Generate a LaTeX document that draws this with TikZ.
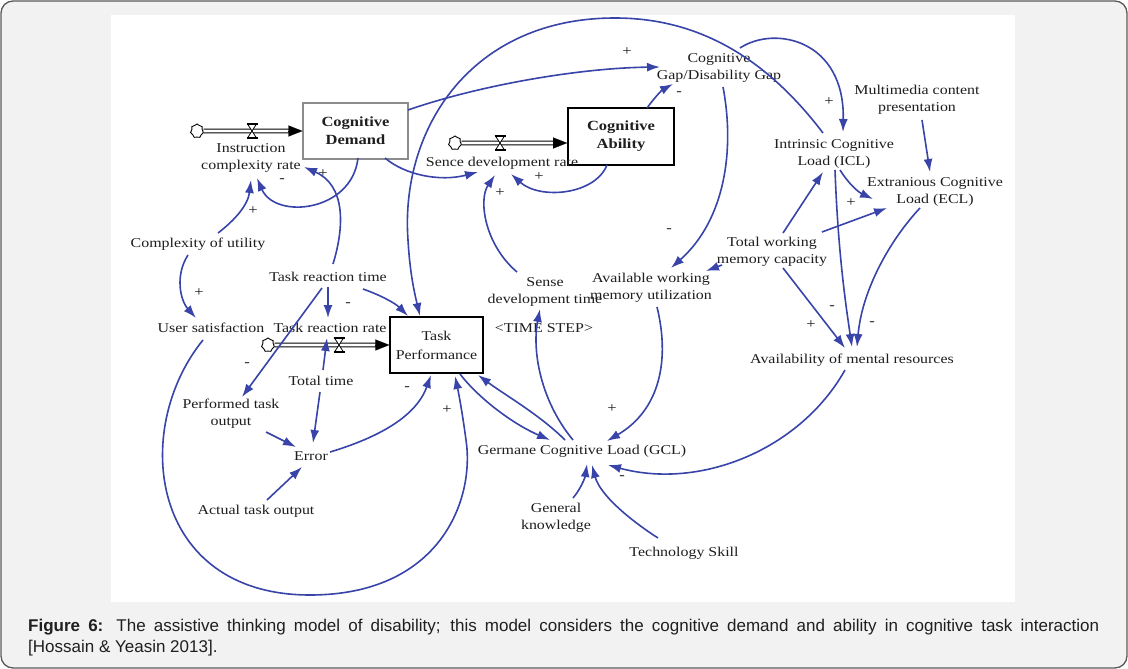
\documentclass[tikz,border=0pt]{standalone}
\usepackage{fontspec}
\setmainfont{Liberation Serif}
\newfontfamily\dgfont[FakeStretch=1.18]{Liberation Serif}
\newfontfamily\capfont{Liberation Sans}
\usetikzlibrary{arrows.meta,shapes.symbols}
\definecolor{linkblue}{RGB}{56,68,168}
\definecolor{framebg}{RGB}{242,242,242}
\definecolor{framedraw}{RGB}{90,90,90}
\definecolor{cdgrey}{RGB}{140,140,140}
\definecolor{txt}{RGB}{30,30,30}
\begin{document}
\begin{tikzpicture}[x=1pt,y=-1pt,
  lbl/.style={font=\dgfont\fontsize{13.5}{17}\selectfont, align=center, inner sep=0pt, text=txt},
  sgn/.style={font=\dgfont\fontsize{14}{14}\selectfont, inner sep=0pt, text=txt},
  stock/.style={draw, rectangle, fill=white, font=\dgfont\fontsize{14}{18}\selectfont, align=center, inner sep=0pt, text=txt},
  link/.style={draw=linkblue, line width=1.6pt, -{Latex[length=13pt,width=9pt]}},
  pipe/.style={draw=black, double=white, double distance=2.6pt, line width=1.1pt, shorten >=12pt},
  pipetip/.style={-{Triangle[length=14pt,width=11pt]}, line width=0.1pt},
  cloudnode/.style={cloud, draw, cloud puffs=7, cloud puff arc=130, aspect=1, minimum width=13pt, minimum height=14pt, inner sep=0pt, line width=0.9pt, fill=white},
  valve/.pic={
    \draw[line width=0.8pt, fill=white] (-4.5,-7) -- (4.5,-7) -- (-4.5,7) -- (4.5,7) -- cycle;
    \draw[line width=1.1pt] (-5.5,-7) -- (5.5,-7) (-5.5,7) -- (5.5,7);
  }
]
\useasboundingbox (0,0) rectangle (1128,669);
\draw[framedraw, fill=framebg, line width=1.3pt, rounded corners=12pt] (1,1) rectangle (1127,668);
\fill[white] (111,15) rectangle (1015,602);

% stocks
\node[stock, draw=cdgrey, line width=1.1pt, minimum width=105pt, minimum height=56pt] (cd) at (355.5,131) {\textbf{Cognitive}\\\textbf{Demand}};
\node[stock, line width=1.7pt, minimum width=106pt, minimum height=57pt] (ca) at (621,136.5) {\textbf{Cognitive}\\\textbf{Ability}};
\node[stock, line width=1.3pt, minimum width=93pt, minimum height=56pt, font=\dgfont\fontsize{13.5}{19}\selectfont] (tp) at (436.5,345) {Task\\Performance};

% clouds
\node[cloudnode] (cloudA) at (197,131) {};
\node[cloudnode] (cloudB) at (455,143) {};
\node[cloudnode] (cloudC) at (268,345) {};

% pipes
\draw[pipe] (cloudA) -- (cd.west);
\draw[pipetip] ([shift={(-14,0)}]cd.west) -- (cd.west);
\pic at (252,131) {valve};
\draw[pipe] (cloudB) -- ([shift={(0,6.5)}]ca.west);
\draw[pipetip] ([shift={(-14,6.5)}]ca.west) -- ([shift={(0,6.5)}]ca.west);
\pic at (500,143) {valve};
\draw[pipe] (cloudC) -- (tp.west);
\draw[pipetip] ([shift={(-14,0)}]tp.west) -- (tp.west);
\pic at (339,345) {valve};

% variables
\node[lbl] (icr) at (251,158) {Instruction\\complexity rate};
\node[lbl] (sdr) at (502,163) {Sence development rate};
\node[lbl] (gap) at (719,68) {Cognitive\\Gap/Disability Gap};
\node[lbl] (mm) at (917,100) {Multimedia content\\presentation};
\node[lbl] (icl) at (834,154) {Intrinsic Cognitive\\Load (ICL)};
\node[lbl] (ecl) at (935,192) {Extranious Cognitive\\Load (ECL)};
\node[lbl] (cu) at (198,244) {Complexity of utility};
\node[lbl] (trt) at (328,277) {Task reaction time};
\node[lbl] (twmc) at (772,252) {Total working\\memory capacity};
\node[lbl] (sdt) at (545,292) {Sense\\development time};
\node[lbl] (awmu) at (651,288) {Available working\\memory utilization};
\node[lbl] (us) at (211,328) {User satisfaction};
\node[lbl] (trr) at (330,328) {Task reaction rate};
\node[lbl] (ts) at (544,328) {<TIME STEP>};
\node[lbl] (amr) at (852,360) {Availability of mental resources};
\node[lbl] (tt) at (321,381) {Total time};
\node[lbl] (pto) at (231,414) {Performed task\\output};
\node[lbl] (err) at (311,456) {Error};
\node[lbl] (gcl) at (582,451) {Germane Cognitive Load (GCL)};
\node[lbl] (gk) at (556,518) {General\\knowledge};
\node[lbl] (tsk) at (684,553) {Technology Skill};
\node[lbl] (ato) at (256,511) {Actual task output};

% connectors
\draw[link] ([shift={(2.5,27)}]cd.center) .. controls (352,212) and (275,220) .. ([shift={(6,20)}]icr.center);
\draw[link] ([shift={(5,-13)}]trt.center) .. controls (345,225) and (345,185) .. ([shift={(53,9)}]icr.center);
\draw[link] ([shift={(20,-11)}]cu.center) .. controls (235,220) and (248,205) .. ([shift={(0,22)}]icr.center);
\draw[link] ([shift={(-10,11)}]cu.center) .. controls (175,275) and (180,300) .. ([shift={(-15,-10)}]us.center);
\draw[link] ([shift={(52.5,-21)}]cd.center) .. controls (480,85) and (580,68) .. ([shift={(-59,-1)}]gap.center);
\draw[link] ([shift={(29.5,27)}]cd.center) .. controls (405,175) and (440,182) .. ([shift={(-24,9)}]sdr.center);
\draw[link] ([shift={(-14,28.5)}]ca.center) .. controls (595,195) and (540,200) .. ([shift={(9,11)}]sdr.center);
\draw[link] ([shift={(-28,-20)}]sdt.center) .. controls (485,245) and (478,200) .. ([shift={(-7,12)}]sdr.center);
\draw[link] ([shift={(26,-28.5)}]ca.center) .. controls (655,97) and (662,90) .. ([shift={(-46,16)}]gap.center);
\draw[link] ([shift={(4,19)}]gap.center) .. controls (735,150) and (725,220) .. ([shift={(20,-20)}]awmu.center);
\draw[link] ([shift={(21,-20)}]gap.center) .. controls (775,25) and (845,40) .. ([shift={(9,-22)}]icl.center);
\draw[link] ([shift={(-11,-21)}]icl.center) .. controls (760,50) and (690,18) .. (615,18) .. controls (470,18) and (400,130) .. (408,240) .. controls (410,275) and (415,295) .. ([shift={(-16.5,-29)}]tp.center);
\draw[link] ([shift={(5,20)}]mm.center) -- ([shift={(-5,-20)}]ecl.center);
\draw[link] ([shift={(6,16)}]icl.center) .. controls (848,183) and (858,192) .. ([shift={(-62,7)}]ecl.center);
\draw[link] ([shift={(50,-20)}]twmc.center) -- ([shift={(-48,16)}]ecl.center);
\draw[link] ([shift={(11,-19)}]twmc.center) -- ([shift={(-11,18)}]icl.center);
\draw[link] ([shift={(-50,13)}]twmc.center) -- ([shift={(55,-17)}]awmu.center);
\draw[link] ([shift={(11,16)}]twmc.center) -- ([shift={(-7,-12)}]amr.center);
\draw[link] ([shift={(1,16)}]icl.center) .. controls (838,250) and (845,300) .. ([shift={(0,-13)}]amr.center);
\draw[link] ([shift={(-15,16)}]ecl.center) .. controls (890,240) and (862,290) .. ([shift={(5,-13)}]amr.center);
\draw[link] ([shift={(-7,10)}]amr.center) .. controls (800,450) and (700,490) .. ([shift={(26,14)}]gcl.center);
\draw[link] ([shift={(6,19)}]awmu.center) .. controls (670,360) and (660,410) .. ([shift={(25,-10)}]gcl.center);
\draw[link] ([shift={(-9,-11)}]gcl.center) .. controls (540,400) and (532,350) .. ([shift={(-5,17)}]sdt.center);
\draw[link] ([shift={(-17,-11)}]gcl.center) .. controls (540,415) and (505,395) .. ([shift={(41.5,30)}]tp.center);
\draw[link] ([shift={(23.5,29)}]tp.center) .. controls (480,400) and (515,425) .. ([shift={(-32,-11)}]gcl.center);
\draw[link] ([shift={(19,-4)}]err.center) .. controls (370,440) and (415,420) .. ([shift={(-5.5,30)}]tp.center);
\draw[link] ([shift={(-8,12)}]us.center) .. controls (130,430) and (150,595) .. (310,595) .. controls (440,595) and (475,500) .. (466,440) .. controls (462,410) and (458,390) .. ([shift={(18.5,31)}]tp.center);
\draw[link] ([shift={(0,10)}]trt.center) -- ([shift={(-2,-10)}]trr.center);
\draw[link] ([shift={(35,12)}]trt.center) .. controls (380,295) and (395,303) .. ([shift={(-28.5,-29)}]tp.center);
\draw[link] ([shift={(-6,11)}]trt.center) -- ([shift={(11,-17)}]pto.center);
\draw[link] ([shift={(2,-11)}]tt.center) -- ([shift={(-3,10)}]trr.center);
\draw[link] ([shift={(-1,11)}]tt.center) -- ([shift={(2,-13)}]err.center);
\draw[link] ([shift={(35,18)}]pto.center) -- ([shift={(-15,-9)}]err.center);
\draw[link] ([shift={(11,-11)}]ato.center) -- ([shift={(-9,11)}]err.center);
\draw[link] ([shift={(17,-20)}]gk.center) .. controls (580,490) and (585,478) .. ([shift={(5,13)}]gcl.center);
\draw[link] ([shift={(-26,-15)}]tsk.center) .. controls (630,520) and (600,495) .. ([shift={(10,14)}]gcl.center);

% polarity signs
\node[sgn] (sg1) at (627,52) {+};
\node[sgn] (sg2) at (679,94) {-};
\node[sgn] (sg3) at (829,102) {+};
\node[sgn] (sg4) at (851,203) {+};
\node[sgn] (sg5) at (323,174) {+};
\node[sgn] (sg6) at (282,181) {-};
\node[sgn] (sg7) at (253,211) {+};
\node[sgn] (sg8) at (539,177) {+};
\node[sgn] (sg9) at (500,193) {+};
\node[sgn] (sg10) at (669,231) {-};
\node[sgn] (sg11) at (199,293) {+};
\node[sgn] (sg12) at (348,305) {-};
\node[sgn] (sg13) at (247,365) {-};
\node[sgn] (sg14) at (407,389) {-};
\node[sgn] (sg15) at (447,410) {+};
\node[sgn] (sg16) at (612,409) {+};
\node[sgn] (sg17) at (832,308) {-};
\node[sgn] (sg18) at (811,325) {+};
\node[sgn] (sg19) at (872,324) {-};
\node[sgn] (sg20) at (622,478) {-};

% caption
\node[anchor=base west, inner sep=0pt, font=\capfont\fontsize{17}{21}\selectfont, text=black!88] (cap1) at (28,631) {\makebox[1071pt][s]{\textbf{Figure 6:} The assistive thinking model of disability; this model considers the cognitive demand and ability in cognitive task interaction}};
\node[anchor=base west, inner sep=0pt, font=\capfont\fontsize{17}{21}\selectfont, text=black!88] (cap2) at (28,652) {[Hossain \& Yeasin 2013].};
\end{tikzpicture}
\end{document}
